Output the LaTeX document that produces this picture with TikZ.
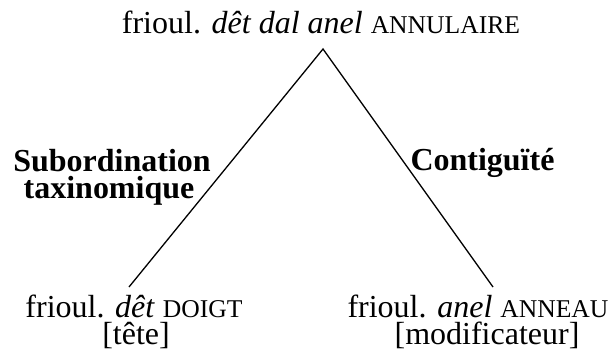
\documentclass[tikz,border=0pt]{standalone}
\usepackage{fontspec}
\setmainfont{Liberation Serif}
% faked small capitals: uppercase letters set smaller
\newcommand{\petitescap}[1]{{\fontsize{25.6}{30}\selectfont #1}}
\begin{document}
\begin{tikzpicture}[x=1pt,y=-1pt,
  word/.style={anchor=base,inner sep=0pt,font=\fontsize{32}{36}\selectfont},
  relation/.style={word,font=\fontsize{32}{36}\selectfont\bfseries},
  branch/.style={line width=1.3pt}]
  \useasboundingbox (0,0) rectangle (608,356);
  % compound at the top
  \node[word] (top) at (321,33) {frioul. \textit{dêt dal anel} \petitescap{ANNULAIRE}};
  % its two members
  \node[word] (head) at (134,317) {frioul. \textit{dêt} \petitescap{DOIGT}};
  \node[word] (headrole) at (136,344) {[tête]};
  \node[word] (modifier) at (478,317) {frioul. \textit{anel} \petitescap{ANNEAU}};
  \node[word] (modrole) at (487,344) {[modificateur]};
  % relation labels
  \node[relation] (subord) at (112,171) {Subordination};
  \node[relation] (taxo) at (109,198) {taxinomique};
  \node[relation] (contig) at (482.5,170) {Contiguïté};
  % branches
  \coordinate (apex) at (323,49);
  \coordinate (headtip) at (129,287);
  \coordinate (modtip) at (493,287);
  \draw[branch] (headtip) -- (apex) -- (modtip);
\end{tikzpicture}
\end{document}
